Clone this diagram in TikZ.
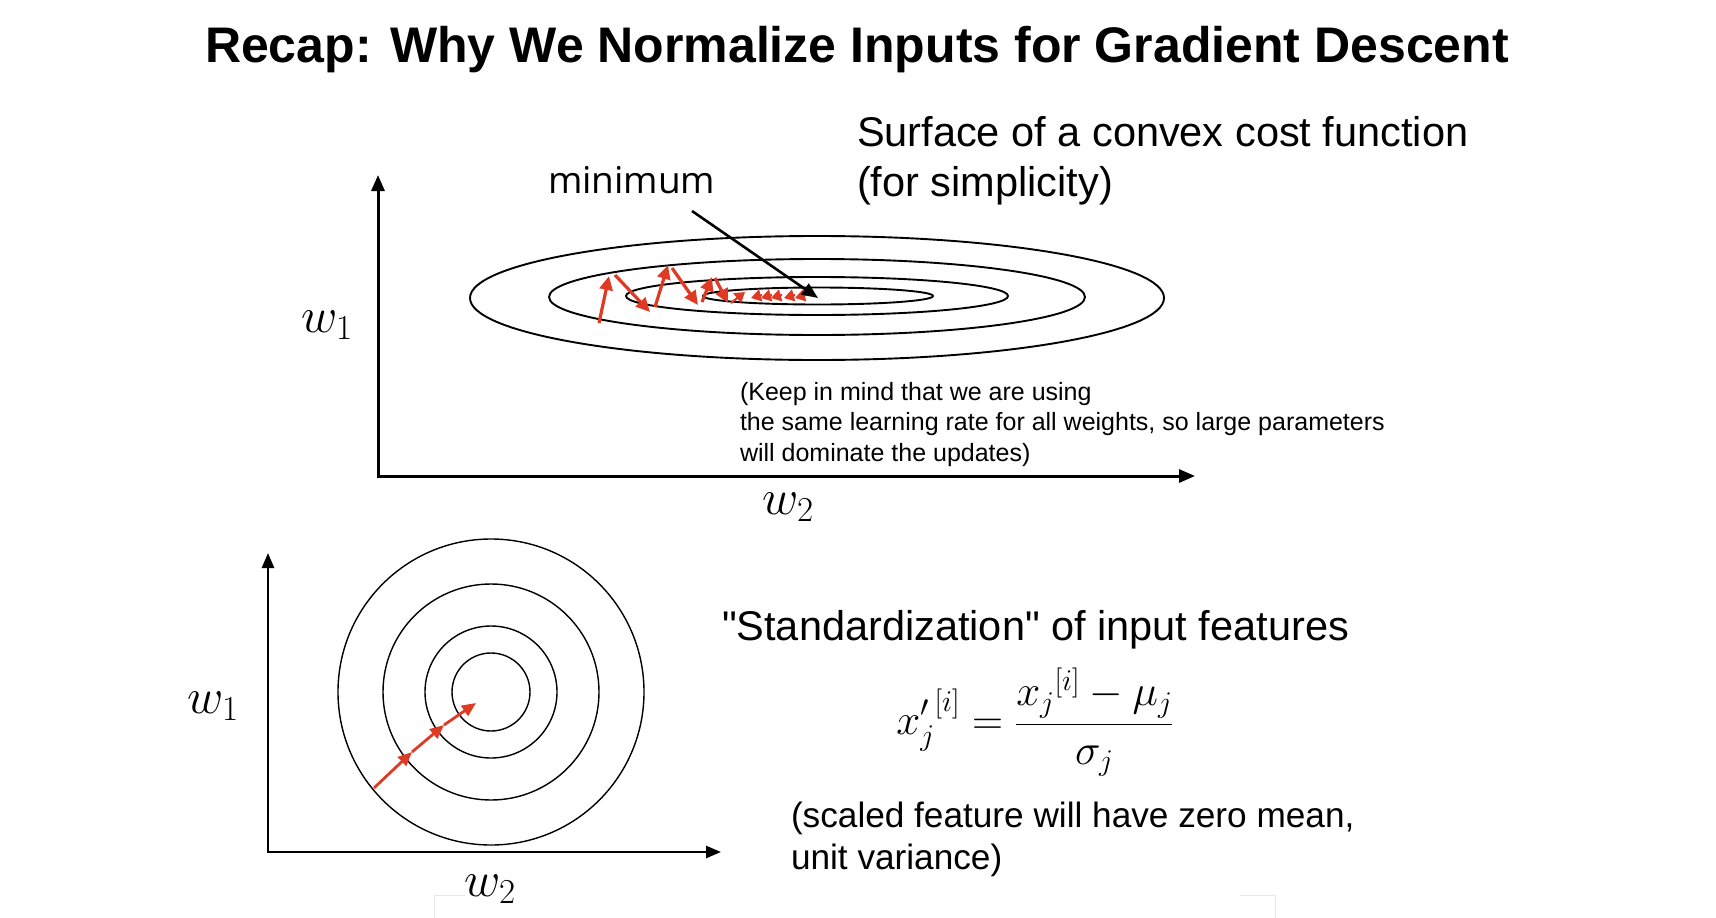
\RequirePackage{fix-cm}
\documentclass[tikz,border=0pt]{standalone}
\usepackage{fontspec}
\setmainfont{Liberation Sans}
\newfontfamily\minfont{Open Sans}
\newfontfamily\qfont{Liberation Sans}
\usetikzlibrary{arrows.meta}
\definecolor{gdred}{RGB}{222,58,36}
\definecolor{faint}{RGB}{232,232,232}
\tikzset{
  axisline/.style={line width=3pt, line join=miter, {Triangle[length=16pt,width=13pt]}-{Triangle[length=16pt,width=13pt]}},
  axislineb/.style={line width=2.6pt, line join=miter, {Triangle[length=15pt,width=12pt]}-{Triangle[length=15pt,width=12pt]}},
  contour/.style={line width=1.9pt},
  ring/.style={line width=1.4pt},
  gdstep/.style={draw=gdred, line width=3.2pt, -{Triangle[length=14pt,width=13pt]}},
  gdtiny/.style={draw=gdred, line width=2.2pt, -{Triangle[length=10pt,width=12pt]}},
  gdbot/.style={draw=gdred, line width=2.8pt, -{Triangle[length=14pt,width=12pt]}},
  pointer/.style={line width=2.6pt, -{Triangle[length=16pt,width=13pt]}},
  txtbig/.style={anchor=base west, font=\fontsize{41.5}{50}\selectfont},
  txtmid/.style={anchor=base west, font=\fontsize{35.2}{42}\selectfont},
  txtsmall/.style={anchor=base west, font=\fontsize{25}{30}\selectfont},
  wlabel/.style={anchor=center, font=\fontsize{50}{60}\selectfont},
}
\begin{document}
\begin{tikzpicture}[x=1pt,y=-1pt, every node/.style={inner sep=0pt, outer sep=0pt}]
\useasboundingbox[fill=white] (0,0) rectangle (1716,918);

% title
\node[anchor=base, font=\fontsize{50}{60}\selectfont\bfseries] (title) at (857,62) {Recap: Why We Normalize Inputs for Gradient Descent};

% ---------- top panel ----------
\coordinate (ty) at (378,175);
\coordinate (to) at (378,476);
\coordinate (tx) at (1195,476);
\draw[axisline] (ty) -- (to) -- (tx);

\node[wlabel] (tw1) at (327,325) {$w_1$};
\node[wlabel] (tw2) at (788,507) {$w_2$};

\draw[contour] (817,298) ellipse [x radius=347pt, y radius=62pt];
\draw[contour] (817,297) ellipse [x radius=268pt, y radius=38pt];
\draw[contour] (817,296) ellipse [x radius=191pt, y radius=19pt];
\draw[contour] (818,296) ellipse [x radius=115pt, y radius=8.5pt];

\coordinate (p0) at (599,323);
\coordinate (p1) at (609,276);
\coordinate (p1b) at (615,275);
\coordinate (p2) at (650,312);
\coordinate (p2b) at (655,307);
\coordinate (p3) at (668,265);
\coordinate (p3b) at (672,268);
\coordinate (p4) at (698,305);
\coordinate (p4b) at (702,302);
\coordinate (p5) at (712,277);
\coordinate (p5b) at (715,278);
\coordinate (p6) at (728,303);
\coordinate (p6b) at (731,303);
\coordinate (p7) at (745,292);
\draw[gdstep] (p0) -- (p1);
\draw[gdstep] (p1b) -- (p2);
\draw[gdstep] (p2b) -- (p3);
\draw[gdstep] (p3b) -- (p4);
\draw[gdstep] (p4b) -- (p5);
\draw[gdstep] (p5b) -- (p6);
\draw[gdtiny] (p6b) -- (p7);
\foreach \i/\x in {a/751,b/761,c/771,d/784,e/795}{
  \coordinate (s\i) at (\x+11,295);
  \coordinate (e\i) at (\x,298);
  \draw[gdtiny] (s\i) -- (e\i);
}

\node[anchor=base west, font=\minfont\fontsize{37}{44}\selectfont] (minlbl) at (548,193) {minimum};
\coordinate (mstart) at (692,211);
\coordinate (mend) at (818,298);
\draw[pointer] (mstart) -- (mend);

\node[txtbig] (surf1) at (857,146) {Surface of a convex cost function};
\node[txtbig] (surf2) at (857,196) {(for simplicity)};

\node[txtsmall] (keep1) at (740,400) {(Keep in mind that we are using};
\node[txtsmall] (keep2) at (740,430) {the same learning rate for all weights, so large parameters};
\node[txtsmall] (keep3) at (740,461) {will dominate the updates)};

% ---------- bottom panel ----------
\coordinate (by) at (268,553);
\coordinate (bo) at (268,852);
\coordinate (bx) at (721,852);
\draw[axislineb] (by) -- (bo) -- (bx);

\node[wlabel] (bw1) at (213,706) {$w_1$};
\node[wlabel] (bw2) at (490,889) {$w_2$};

\foreach \r in {153,108,66,39}{
  \draw[ring] (491,692) circle [radius=\r pt];
}

\coordinate (q0) at (374,788);
\coordinate (q1) at (412,752);
\coordinate (q2) at (444,725);
\coordinate (q3) at (476,703);
\draw[gdbot] (q0) -- (q1);
\draw[gdbot] (q1) -- (q2);
\draw[gdbot] (q2) -- (q3);

\node[txtbig] (std) at (722,640) {{\qfont"}Standardization{\qfont"} of input features};
\node[anchor=center, font=\fontsize{43}{50}\selectfont] (formula) at (1035,722)
  {$\displaystyle {x'_j}^{[i]} = \frac{{x_j}^{[i]} - \mu_j}{\sigma_j}$};
\node[txtmid] (sc1) at (791,827) {(scaled feature will have zero mean,};
\node[txtmid] (sc2) at (791,869) {unit variance)};

% faint frame remnants
\draw[faint, line width=1pt] (434,918) -- (434,895) -- (465,895);
\draw[faint, line width=1pt] (1240,895) -- (1275,895) -- (1275,918);
\end{tikzpicture}
\end{document}
